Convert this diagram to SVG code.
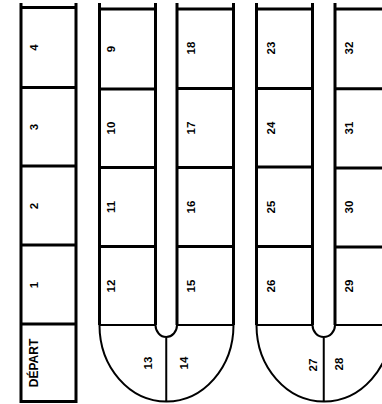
<svg xmlns="http://www.w3.org/2000/svg" width="382" height="404" viewBox="0 0 382 404">
<style>
.thick{stroke:#000;stroke-width:3;fill:none}
.thin{stroke:#000;stroke-width:2;fill:none}
text{font-family:"Liberation Sans",Arial,sans-serif;font-weight:bold;font-size:11.5px;fill:#000;text-anchor:middle;dominant-baseline:central}
.big{font-size:12px}
</style>
<rect width="382" height="404" fill="#fff"/>
<g id="board">
<path class="thick" d="M21 3V403M76 3V403M21 7.5H76M21 87.5H76M21 166H76M21 245H76M21 324H76M21 401.5H76"/>
<path class="thick" d="M99.5 3V325M155.5 3V325M177 3V325M233.5 3V325M256.5 3V325M312.5 3V325M335 3V325"/>
<path class="thick" d="M99.5 9H155.5M99.5 89H155.5M99.5 167.5H155.5M99.5 246.5H155.5"/>
<path class="thick" d="M177 9H233.5M177 88.5H233.5M177 167.5H233.5M177 246.5H233.5"/>
<path class="thick" d="M256.5 9H312.5M256.5 88.5H312.5M256.5 167H312.5M256.5 246.5H312.5"/>
<path class="thick" d="M335 9H382M335 88.7H382M335 168H382M335 247H382"/>
<path class="thin" d="M99.5 325H155.5M177 325H233.5M256.5 325H312.5M335 325H382"/>
<path class="thin" d="M99.5 325A67 76.5 0 0 0 233.5 325M155.5 325A10.75 12 0 0 0 177 325M166.25 337V401.5"/>
<path class="thin" d="M256.5 325A67.5 76.5 0 0 0 391.5 325M312.5 325A11.25 12 0 0 0 335 325M323.75 337V401.5"/>
</g>
<g id="cell-depart"><text class="big" transform="translate(33.5,363) rotate(-90)">DÉPART</text></g>
<g id="cell-1"><text transform="translate(34,285) rotate(-90)">1</text></g>
<g id="cell-2"><text transform="translate(34,206) rotate(-90)">2</text></g>
<g id="cell-3"><text transform="translate(34,127) rotate(-90)">3</text></g>
<g id="cell-4"><text transform="translate(34,47.5) rotate(-90)">4</text></g>
<g id="cell-9"><text transform="translate(111,49) rotate(-90)">9</text></g>
<g id="cell-10"><text transform="translate(111,128) rotate(-90)">10</text></g>
<g id="cell-11"><text transform="translate(111,207) rotate(-90)">11</text></g>
<g id="cell-12"><text transform="translate(111,286) rotate(-90)">12</text></g>
<g id="cell-13"><text transform="translate(147.5,363) rotate(-90)">13</text></g>
<g id="cell-14"><text transform="translate(184,363) rotate(-90)">14</text></g>
<g id="cell-15"><text transform="translate(191,286) rotate(-90)">15</text></g>
<g id="cell-16"><text transform="translate(191,207) rotate(-90)">16</text></g>
<g id="cell-17"><text transform="translate(191,128) rotate(-90)">17</text></g>
<g id="cell-18"><text transform="translate(191,48) rotate(-90)">18</text></g>
<g id="cell-23"><text transform="translate(271,48) rotate(-90)">23</text></g>
<g id="cell-24"><text transform="translate(271,128) rotate(-90)">24</text></g>
<g id="cell-25"><text transform="translate(271,207) rotate(-90)">25</text></g>
<g id="cell-26"><text transform="translate(271,286) rotate(-90)">26</text></g>
<g id="cell-27"><text transform="translate(313,365) rotate(-90)">27</text></g>
<g id="cell-28"><text transform="translate(338.5,364) rotate(-90)">28</text></g>
<g id="cell-29"><text transform="translate(349,286) rotate(-90)">29</text></g>
<g id="cell-30"><text transform="translate(349,207) rotate(-90)">30</text></g>
<g id="cell-31"><text transform="translate(349,128) rotate(-90)">31</text></g>
<g id="cell-32"><text transform="translate(349,48) rotate(-90)">32</text></g>
</svg>
